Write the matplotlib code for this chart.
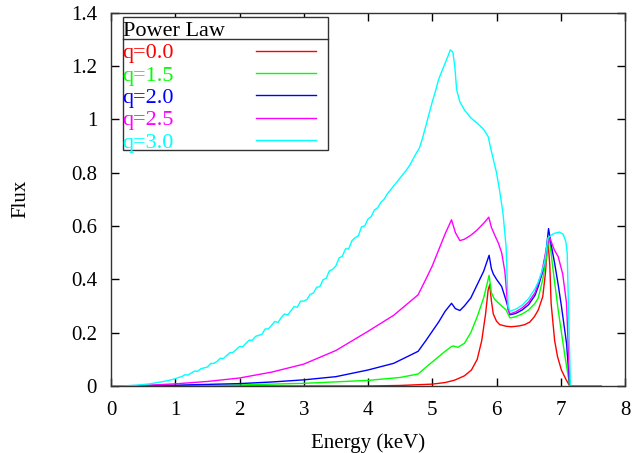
import matplotlib
matplotlib.use("Agg")
import matplotlib.pyplot as plt
from matplotlib.lines import Line2D
from matplotlib.patches import Rectangle

plt.rcParams['font.family'] = ['Liberation Serif', 'DejaVu Serif']

# ---- data ----
x_q00 = [0.0, 4.0, 4.5, 5.0, 5.2, 5.35, 5.5, 5.61, 5.7, 5.77, 5.83, 5.87, 5.895, 5.92, 5.95,
         6.0, 6.05, 6.15, 6.23, 6.35, 6.44, 6.52, 6.59, 6.65, 6.72, 6.76, 6.80, 6.83, 6.85,
         6.905, 6.95, 7.01, 7.08, 7.14, 7.62]
y_q00 = [0.0, 0.0, 0.002, 0.007, 0.013, 0.022, 0.038, 0.06, 0.10, 0.17, 0.27, 0.36, 0.38, 0.32, 0.27,
         0.243, 0.23, 0.224, 0.222, 0.225, 0.23, 0.24, 0.26, 0.285, 0.335, 0.42, 0.55, 0.45, 0.31,
         0.17, 0.11, 0.06, 0.025, 0.0, 0.0]

x_q15 = [0.0, 1.0, 2.0, 3.0, 4.0, 4.5, 4.78, 4.9, 5.0, 5.1, 5.2, 5.3, 5.33, 5.4, 5.5, 5.6, 5.7,
         5.8, 5.885, 5.92, 5.97, 6.08, 6.15, 6.21, 6.3, 6.4, 6.5, 6.6, 6.65, 6.72, 6.77, 6.82,
         6.88, 6.96, 7.06, 7.14, 7.62]
y_q15 = [0.0, 0.001, 0.004, 0.010, 0.021, 0.032, 0.045, 0.07, 0.09, 0.11, 0.13, 0.148, 0.15, 0.145,
         0.16, 0.20, 0.26, 0.33, 0.415, 0.35, 0.325, 0.30, 0.285, 0.255, 0.26, 0.27, 0.285, 0.31,
         0.33, 0.40, 0.47, 0.56, 0.435, 0.285, 0.12, 0.0, 0.0]

x_q20 = [0.0, 1.0, 2.0, 2.5, 3.0, 3.5, 4.0, 4.4, 4.78, 4.9, 5.0, 5.1, 5.2, 5.3, 5.36, 5.43, 5.5,
         5.6, 5.7, 5.8, 5.885, 5.92, 5.95, 6.0, 6.08, 6.15, 6.21, 6.3, 6.4, 6.5, 6.6, 6.65, 6.72,
         6.77, 6.81, 6.85, 6.905, 6.96, 7.01, 7.09, 7.14, 7.62]
y_q20 = [0.0, 0.003, 0.009, 0.015, 0.023, 0.035, 0.06, 0.085, 0.13, 0.17, 0.205, 0.24, 0.28, 0.31,
         0.29, 0.283, 0.30, 0.33, 0.38, 0.43, 0.49, 0.44, 0.42, 0.40, 0.373, 0.32, 0.267, 0.272,
         0.285, 0.305, 0.34, 0.373, 0.43, 0.50, 0.59, 0.53, 0.46, 0.38, 0.30, 0.16, 0.0, 0.0]

x_q25 = [0.0, 0.5, 1.0, 1.5, 2.0, 2.5, 3.0, 3.5, 4.0, 4.4, 4.78, 4.9, 5.0, 5.1, 5.2, 5.3, 5.36,
         5.43, 5.5, 5.6, 5.7, 5.8, 5.88, 5.92, 5.97, 6.03, 6.08, 6.13, 6.18, 6.21, 6.3, 6.4, 6.5,
         6.6, 6.7, 6.78, 6.83, 6.9, 6.96, 7.03, 7.09, 7.14, 7.62]
y_q25 = [0.0, 0.002, 0.008, 0.017, 0.030, 0.052, 0.082, 0.133, 0.205, 0.265, 0.342, 0.40, 0.45,
         0.51, 0.57, 0.623, 0.575, 0.545, 0.55, 0.565, 0.585, 0.61, 0.633, 0.595, 0.567, 0.535,
         0.50, 0.43, 0.285, 0.27, 0.278, 0.293, 0.315, 0.35, 0.42, 0.52, 0.555, 0.51, 0.485,
         0.42, 0.31, 0.0, 0.0]

x_q30 = [0.0, 0.2, 0.4, 0.6, 0.8, 0.9,
         1.00, 1.05, 1.10, 1.15, 1.20, 1.25, 1.30, 1.35, 1.40, 1.45, 1.50, 1.55, 1.60, 1.65,
         1.70, 1.75, 1.80, 1.85, 1.90, 1.95, 2.00, 2.05, 2.10, 2.15, 2.20, 2.25, 2.30, 2.35,
         2.40, 2.45, 2.50, 2.55, 2.60, 2.65, 2.70, 2.75, 2.80, 2.85, 2.90, 2.95, 3.00, 3.05,
         3.10, 3.15, 3.20, 3.25, 3.30, 3.35, 3.40, 3.45, 3.50, 3.55, 3.60, 3.65, 3.70, 3.75,
         3.80, 3.85, 3.90, 3.95, 4.00, 4.05, 4.10, 4.15, 4.20, 4.25, 4.30, 4.35, 4.40, 4.45,
         4.50, 4.55, 4.60, 4.65, 4.70, 4.75, 4.80,
         4.85, 4.9, 4.95, 5.0, 5.05, 5.1, 5.15, 5.2, 5.25, 5.28, 5.32, 5.35, 5.38, 5.43, 5.5,
         5.6, 5.7, 5.8, 5.87, 5.92, 6.0, 6.05, 6.1, 6.15, 6.18, 6.21, 6.3, 6.4, 6.5, 6.6, 6.65,
         6.7, 6.75, 6.8, 6.85, 6.9, 6.98, 7.04, 7.08, 7.1, 7.12, 7.15, 7.62]
y_q30 = [0.0, 0.0005, 0.003, 0.008, 0.016, 0.021,
         0.027, 0.032, 0.035, 0.042, 0.041, 0.049, 0.056, 0.055, 0.065, 0.068, 0.071, 0.084,
         0.085, 0.092, 0.104, 0.103, 0.114, 0.125, 0.126, 0.137, 0.148, 0.147, 0.160, 0.172,
         0.171, 0.186, 0.190, 0.194, 0.214, 0.214, 0.228, 0.242, 0.238, 0.257, 0.270, 0.266,
         0.282, 0.298, 0.295, 0.318, 0.318, 0.324, 0.344, 0.348, 0.370, 0.372, 0.398, 0.404,
         0.432, 0.437, 0.450, 0.480, 0.486, 0.514, 0.514, 0.545, 0.556, 0.563, 0.597, 0.600,
         0.626, 0.635, 0.660, 0.668, 0.688, 0.700, 0.720, 0.735, 0.750, 0.765, 0.780, 0.795,
         0.810, 0.828, 0.850, 0.872, 0.892,
         0.93, 0.975, 1.02, 1.065, 1.105, 1.15, 1.18, 1.21, 1.24, 1.26, 1.252, 1.20, 1.11,
         1.065, 1.035, 1.005, 0.985, 0.962, 0.935, 0.88, 0.80, 0.73, 0.65, 0.52, 0.30, 0.28,
         0.288, 0.303, 0.328, 0.365, 0.39, 0.425, 0.465, 0.555, 0.565, 0.572, 0.577, 0.568,
         0.54, 0.50, 0.30, 0.0, 0.0]

labels = ["q=0.0", "q=1.5", "q=2.0", "q=2.5", "q=3.0"]
colors = ["#ff0000", "#00ff00", "#0000ff", "#ff00ff", "#00ffff"]
legend_title = "Power Law"
xticks = [0, 1, 2, 3, 4, 5, 6, 7, 8]
yticks = [0, 0.2, 0.4, 0.6, 0.8, 1.0, 1.2, 1.4]
ytick_labels = ["0", "0.2", "0.4", "0.6", "0.8", "1", "1.2", "1.4"]

series = [(x_q00, y_q00), (x_q15, y_q15), (x_q20, y_q20), (x_q25, y_q25), (x_q30, y_q30)]

W, H = 635, 453
AX_L, AX_R, AX_T, AX_B = 111, 625, 12.5, 386
fig = plt.figure(figsize=(W/100, H/100), dpi=100)
ax = fig.add_axes([AX_L/W, 1-AX_B/H, (AX_R-AX_L)/W, (AX_B-AX_T)/H])

for (xs, ys), lab, col in zip(series, labels, colors):
    ax.plot(xs, ys, color=col, lw=1.0, label=lab)

ax.set_xlim(0, 8)
ax.set_ylim(0, 1.4)
ax.set_xticks(xticks)
ax.set_yticks(yticks)
ax.set_yticklabels(ytick_labels)
ax.tick_params(direction='in', top=True, right=True, length=6, width=1.0,
               labelsize=15, colors='black')
ax.tick_params(axis='x', pad=11)
ax.tick_params(axis='y', pad=10)
for s in ax.spines.values():
    s.set_linewidth(1.0)
    s.set_color('#333333')

ax.set_xlabel("Energy (keV)", fontsize=15, labelpad=9)
ax.set_ylabel("Flux", fontsize=15, labelpad=29)

def ax_frac(px, py):
    return ((px - AX_L) / (AX_R - AX_L), (AX_B - py) / (AX_B - AX_T))

# legend (text left, sample right) with gnuplot-like boxed frame
leg = ax.legend(loc='upper left', bbox_to_anchor=ax_frac(122.5, 22),
                title=legend_title, alignment='left', markerfirst=False,
                labelcolor='linecolor', fontsize=16, title_fontsize=16,
                frameon=False, borderpad=0.0, borderaxespad=0.0,
                handlelength=2.7, handletextpad=3.7, labelspacing=0.08)

bx0, by0 = ax_frac(123, 150)
bx1, by1 = ax_frac(328, 16.7)
ax.add_patch(Rectangle((bx0, by0), bx1 - bx0, by1 - by0, transform=ax.transAxes,
                       fill=True, facecolor='white', edgecolor='#333333', lw=1.0, zorder=4))
sx0, sy = ax_frac(123, 39.3)
sx1, _ = ax_frac(328, 39.3)
ax.add_line(Line2D([sx0, sx1], [sy, sy], transform=ax.transAxes, color='#333333', lw=1.0, zorder=4.5))
leg.set_zorder(5)

fig.savefig("out.png", dpi=100)
